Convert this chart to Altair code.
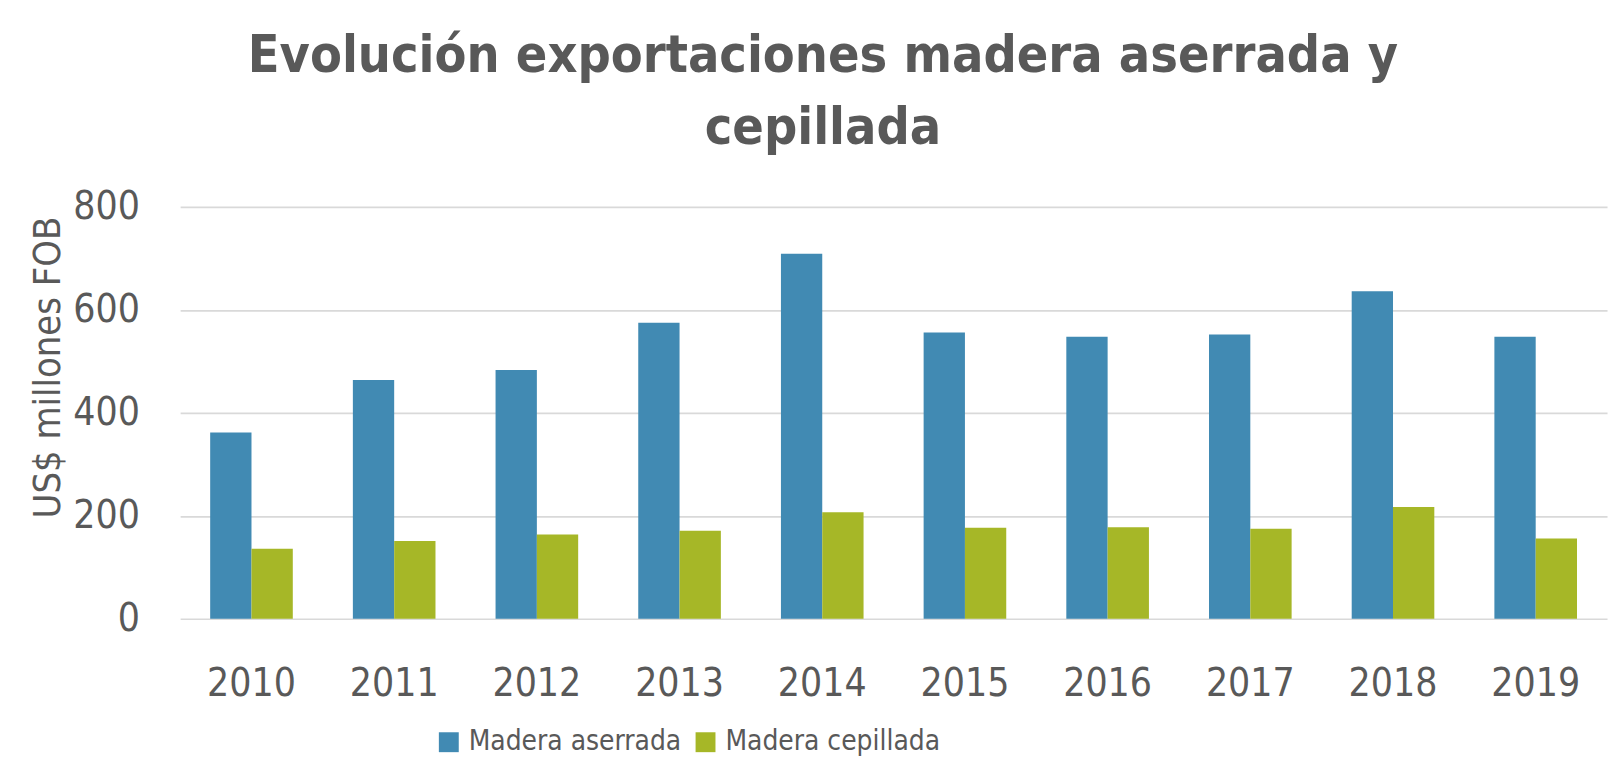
import altair as alt
import pandas as pd

years = ["2010", "2011", "2012", "2013", "2014", "2015", "2016", "2017", "2018", "2019"]
aserrada = [362, 464, 483, 575, 709, 556, 548, 552, 636, 548]
cepillada = [136, 151, 164, 171, 207, 177, 178, 175, 217, 156]
series = ["Madera aserrada", "Madera cepillada"]
colors = ["#418AB3", "#A6B727"]

rows = []
for i, y in enumerate(years):
    rows.append({"year": y, "serie": series[0], "value": aserrada[i]})
    rows.append({"year": y, "serie": series[1], "value": cepillada[i]})
df = pd.DataFrame(rows)

FONT = "DejaVu Sans Condensed, sans-serif"
GRAY = "#595959"

chart = alt.Chart(df).mark_bar().encode(
    x=alt.X("year:N", sort=years, title=None,
            scale=alt.Scale(paddingInner=0.421, paddingOuter=0.2105),
            axis=alt.Axis(labelAngle=0, labelFontSize=39, labelColor=GRAY, labelFont=FONT,
                          ticks=False, tickSize=0, domain=False, labelPadding=77,
                          labelBaseline="alphabetic", grid=False)),
    xOffset=alt.XOffset("serie:N", sort=series),
    y=alt.Y("value:Q", title="US$ millones FOB",
            scale=alt.Scale(domain=[0, 800], nice=False),
            axis=alt.Axis(values=[0, 200, 400, 600, 800], labelFontSize=39, labelColor=GRAY,
                          labelFont=FONT, ticks=False, tickSize=0, domain=False, labelPadding=41,
                          titleFont=FONT, titleFontSize=38, titleFontWeight="normal",
                          titleColor=GRAY, titleX=-121, titleY=161, titleAngle=270,
                          titleAlign="center", titleBaseline="alphabetic",
                          gridColor="#D9D9D9", gridWidth=1.6)),
    color=alt.Color("serie:N", sort=series,
                    scale=alt.Scale(domain=series, range=colors),
                    legend=alt.Legend(title=None, orient="none", legendX=256, legendY=524,
                                      direction="horizontal", columns=2, symbolType="square",
                                      symbolSize=400, symbolStrokeWidth=0, labelFont=FONT,
                                      labelFontSize=28, labelColor=GRAY, labelOffset=6,
                                      labelLimit=0, columnPadding=10, padding=0)),
).properties(
    width=1434,
    height=414,
    title=alt.TitleParams(
        text=["Evolución exportaciones madera aserrada y", "cepillada"],
        font=FONT, fontSize=52, fontWeight="bold", color=GRAY, lineHeight=73,
        anchor="middle", dx=-71, offset=33,
    ),
    autosize=alt.AutoSizeParams(type="none"),
    padding={"left": 173, "top": 198, "right": 8, "bottom": 139},
).configure_view(stroke=None)

chart.save("out.html", embed_options={"renderer": "svg", "actions": False})
